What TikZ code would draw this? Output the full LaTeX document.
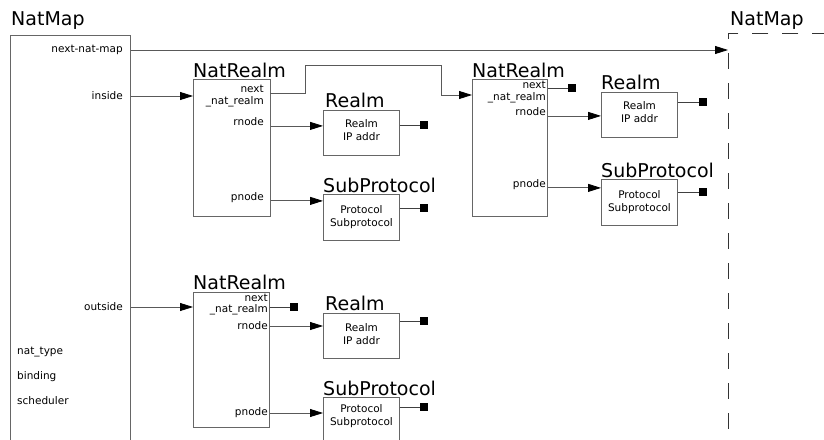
\documentclass[tikz,border=0pt]{standalone}
\usepackage{fontspec}
\setmainfont{DejaVu Sans}
\usetikzlibrary{arrows.meta, positioning, calc}
\tikzset{box/.style={draw=black!60, line width=0.9pt, anchor=north west, inner sep=0pt},
    title/.style={font=\fontsize{19}{19}\selectfont, anchor=base west, inner sep=0pt},
    field/.style={font=\fontsize{10.5}{13}\selectfont, inner sep=0pt},
    link/.style={draw=black!65, line width=0.8pt, -{Triangle[length=13pt,width=8pt,color=black]}},
    wire/.style={draw=black!75, line width=0.8pt},
    nullptr/.style={fill=black, minimum size=8.5pt, inner sep=0pt}}

\begin{document}
\begin{tikzpicture}[x=1pt, y=-1pt]

% Page frame
\clip (0,0) rectangle (824,439);

% The NatMap record on the left
\node[box, minimum width=120pt, minimum height=430pt] (nm) at (10,35) {};
\node[title] at ([yshift=10pt, xshift=1pt]nm.north west) {NatMap};
\node[field, anchor=east] (nmnext) at (123,50) {next-nat-map};
\node[field, anchor=east] (nmin) at (123,96) {inside};
\node[field, anchor=east] (nmout) at (123,307) {outside};
\node[field, anchor=west] (nmtype) at (17,352) {nat\_type};
\node[field, anchor=west] (nmbind) at (17,377) {binding};
\node[field, anchor=west] (nmsched) at (17,401) {scheduler};

% The next NatMap, only hinted at by a dashed outline
\node[box, draw=black!80, dash pattern=on 16pt off 14pt, minimum width=200pt, minimum height=450pt] (nm2) at (728,33) {};
\node[title] at ([yshift=8pt, xshift=2pt]nm2.north west) {NatMap};

% First inside NatRealm
\node[box, minimum width=77pt, minimum height=137pt] (r1) at (193,79) {};
\node[title] at ([yshift=2pt]r1.north west) {NatRealm};
\node[field, anchor=east] (r1next) at (264,89) {next};
\node[field, anchor=east] (r1nat) at (264,102) {\_nat\_realm};
\node[field, anchor=east] (r1r) at (264,122) {rnode};
\node[field, anchor=east] (r1p) at (264,198) {pnode};
\coordinate (r1out) at (270,93);
\coordinate (bend1) at (305,65);
\coordinate (bend2) at (441,95);

\node[box, minimum width=76pt, minimum height=45pt] (ra1) at (323,110) {};
\node[title] at ([yshift=3pt, xshift=2pt]ra1.north west) {Realm};
\node[field, align=center] at ([yshift=3pt]ra1.center) {Realm\\IP addr};
\node[box, minimum width=76pt, minimum height=46pt] (sp1) at (323,194) {};
\node[title] at ([yshift=2pt]sp1.north west) {SubProtocol};
\node[field, align=center] at (sp1.center) {Protocol\\Subprotocol};
\node[nullptr] (n1) at (424,125) {};
\node[nullptr] (n2) at (424,208) {};

% Second inside NatRealm
\node[box, minimum width=75pt, minimum height=137pt] (r2) at (472,79) {};
\node[title] at ([yshift=2pt]r2.north west) {NatRealm};
\node[field, anchor=east] (r2next) at (546,85) {next};
\node[field, anchor=east] (r2nat) at (546,98) {\_nat\_realm};
\node[field, anchor=east] (r2r) at (546,112) {rnode};
\node[field, anchor=east] (r2p) at (546,185) {pnode};
\node[nullptr] (n3) at (572,88) {};

\node[box, minimum width=76pt, minimum height=45pt] (ra2) at (601,92) {};
\node[title] at ([yshift=3pt]ra2.north west) {Realm};
\node[field, align=center] at ([yshift=3pt]ra2.center) {Realm\\IP addr};
\node[box, minimum width=76pt, minimum height=46pt] (sp2) at (601,179) {};
\node[title] at ([yshift=2pt]sp2.north west) {SubProtocol};
\node[field, align=center] at (sp2.center) {Protocol\\Subprotocol};
\node[nullptr] (n4) at (703,102) {};
\node[nullptr] (n5) at (703,192) {};

% Outside NatRealm
\node[box, minimum width=76pt, minimum height=135pt] (r3) at (193,292) {};
\node[title] at ([yshift=3pt]r3.north west) {NatRealm};
\node[field, anchor=east] (r3next) at (268,298) {next};
\node[field, anchor=east] (r3nat) at (268,310) {\_nat\_realm};
\node[field, anchor=east] (r3r) at (268,326) {rnode};
\node[field, anchor=east] (r3p) at (268,413) {pnode};
\node[nullptr] (n6) at (294,307) {};

\node[box, minimum width=76pt, minimum height=45pt] (ra3) at (323,313) {};
\node[title] at ([yshift=3pt, xshift=2pt]ra3.north west) {Realm};
\node[field, align=center] at ([yshift=2pt]ra3.center) {Realm\\IP addr};
\node[box, minimum width=76pt, minimum height=60pt] (sp3) at (323,397) {};
\node[title] at ([yshift=2pt]sp3.north west) {SubProtocol};
\node[field, align=center] at ([yshift=-19pt]sp3.north) {Protocol\\Subprotocol};
\node[nullptr] (n7) at (424,321) {};
\node[nullptr] (n8) at (424,407) {};

% Pointers out of NatMap
\draw[link] (nmnext -| nm.east) -- (nmnext -| nm2.west);
\draw[link] (nmin -| nm.east) -- (nmin -| r1.west);
\draw[link] (nmout -| nm.east) -- (nmout -| r3.west);

% Pointers out of the NatRealms
\draw[link] (r1out) -| (bend1) -| (bend2) -- (bend2 -| r2.west);
\draw[link] (r1r.base -| r1.east) -- (r1r.base -| ra1.west);
\draw[link] (r1p.base -| r1.east) -- (r1p.base -| sp1.west);
\draw[link] (r2r.base -| r2.east) -- (r2r.base -| ra2.west);
\draw[link] (r2p.base -| r2.east) -- (r2p.base -| sp2.west);
\draw[link] (r3r.center -| r3.east) -- (r3r.center -| ra3.west);
\draw[link] (r3p.center -| r3.east) -- (r3p.center -| sp3.west);

% Null pointers
\draw[wire] (n1 -| ra1.east) -- (n1);
\draw[wire] (n2 -| sp1.east) -- (n2);
\draw[wire] (n3 -| r2.east) -- (n3);
\draw[wire] (n4 -| ra2.east) -- (n4);
\draw[wire] (n5 -| sp2.east) -- (n5);
\draw[wire] (n6 -| r3.east) -- (n6);
\draw[wire] (n7 -| ra3.east) -- (n7);
\draw[wire] (n8 -| sp3.east) -- (n8);
\end{tikzpicture}
\end{document}
